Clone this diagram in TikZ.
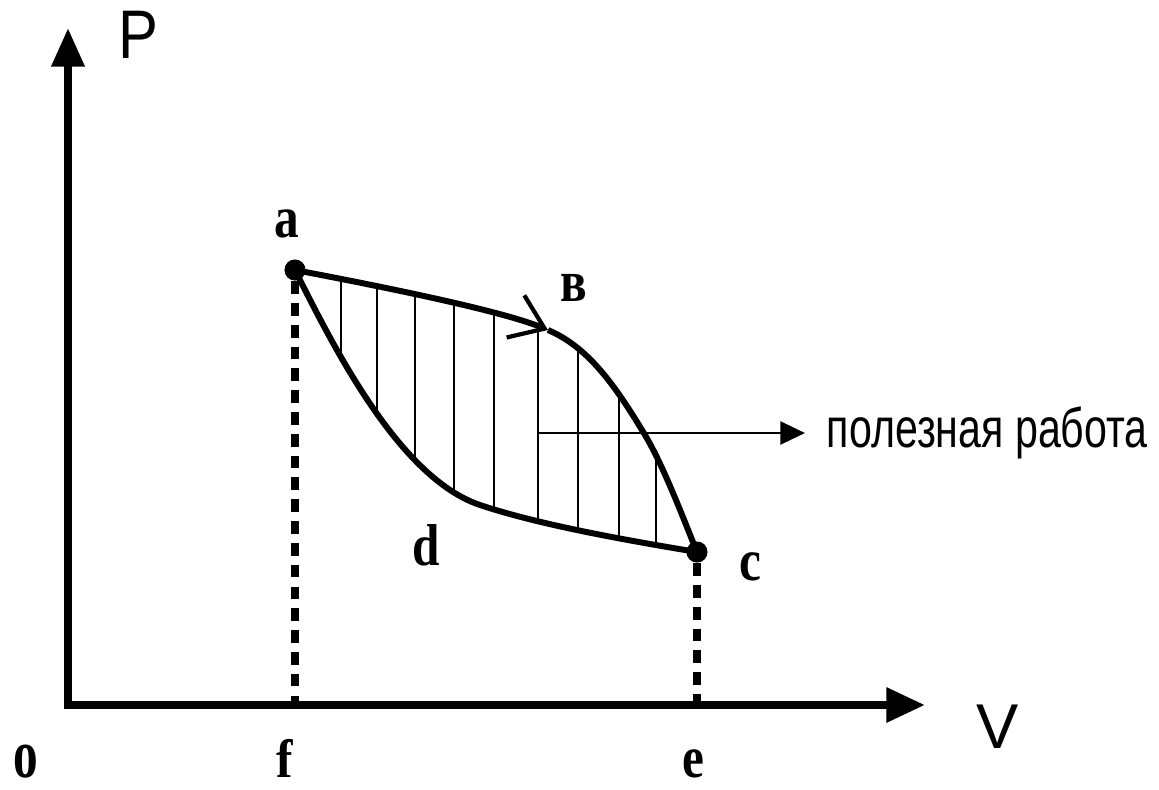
\documentclass[tikz,border=0pt]{standalone}
\usepackage{fontspec}
\setmainfont{Liberation Serif}
\setsansfont{Liberation Sans}
\usetikzlibrary{arrows.meta}

\newcommand{\tallbox}[2][1.2]{\scalebox{1}[#1]{#2}}

\begin{document}
\begin{tikzpicture}[x=0.01cm, y=-0.01cm,
    axis/.style={line width=2.3pt, line join=miter},
    curve/.style={line width=1.7pt, line join=round},
    hatch/.style={line width=0.85pt},
    dropline/.style={line width=2pt, dash pattern=on 3.6pt off 2.6pt},
    pointer/.style={line width=0.8pt, -{Triangle[length=7pt, width=6.5pt]}},
    ptlabel/.style={font=\fontsize{14}{16}\selectfont\bfseries, inner sep=0pt},
    axlabel/.style={font=\sffamily\fontsize{17}{20}\selectfont, inner sep=0pt},
    state/.style={circle, fill=black, inner sep=0pt, minimum size=6pt}]
    \useasboundingbox (0,0) rectangle (1159,790);

    % axes
    \coordinate (O) at (68,705);
    \coordinate (ytip) at (68,28);
    \coordinate (xtip) at (925,705);
    \draw[axis, {Triangle[length=11pt, width=9pt]}-{Triangle[length=11pt, width=9.5pt]}] (ytip) -- (O) -- (xtip);
    \node[axlabel] (P) at (138,35) {\tallbox[1.15]{P}};
    \node[axlabel, font=\sffamily\fontsize{18}{20}\selectfont] (V) at (998,727) {V};

    % states of the cycle
    \node[state] (a) at (295,270) {};
    \node[state] (c) at (697,552) {};
    \coordinate (b) at (548,330);
    \coordinate (m) at (645,435);
    \coordinate (d) at (480,505);
    \coordinate (fx) at (295,705);
    \coordinate (ex) at (697,705);

    % hatched area = useful work
    \begin{scope}
        \clip (a.center) .. controls (400,290) and (505,312) .. (b)
            .. controls (588,347) and (615,385) .. (m)
            .. controls (663,465) and (682,515) .. (c.center)
            .. controls (625,540) and (540,525) .. (d)
            .. controls (400,478) and (335,350) .. (a.center);
        \foreach \x in {341,377,415,454,494,538,578,619,656}
            \draw[hatch] (\x,250) -- (\x,580);
    \end{scope}

    % cycle a -> b -> c -> d -> a
    \draw[curve, -{Straight Barb[length=9pt, width=13pt, line width=1.2pt]}] (a.center) .. controls (400,290) and (505,312) .. (b);
    \draw[curve] (b) .. controls (588,347) and (615,385) .. (m)
        .. controls (663,465) and (682,515) .. (c.center);
    \draw[curve] (c.center) .. controls (625,540) and (540,525) .. (d)
        .. controls (400,478) and (335,350) .. (a.center);

    \draw[dropline] (a) -- (fx);
    \draw[dropline] (c) -- (ex);

    % labels
    \node[ptlabel] (la) at (287,224) {\tallbox{a}};
    \node[ptlabel] (lb) at (574,288) {\tallbox{в}};
    \node[ptlabel] (lc) at (750,567) {\tallbox{c}};
    \node[ptlabel] (ld) at (426,545) {\tallbox{d}};
    \node[ptlabel] (lo) at (26,762) {\tallbox[1.4]{o}};
    \node[ptlabel] (lf) at (285,758) {\tallbox[1.1]{f}};
    \node[ptlabel] (le) at (693,764) {\tallbox{e}};

    \coordinate (ws) at (538,433);
    \node[font=\sffamily\fontsize{11.7}{13}\selectfont, inner ysep=0pt, inner xsep=6pt, anchor=west] (work) at (805,433) {\tallbox[1.35]{полезная работа}};
    \draw[pointer] (ws) -- (work.west);
\end{tikzpicture}
\end{document}
